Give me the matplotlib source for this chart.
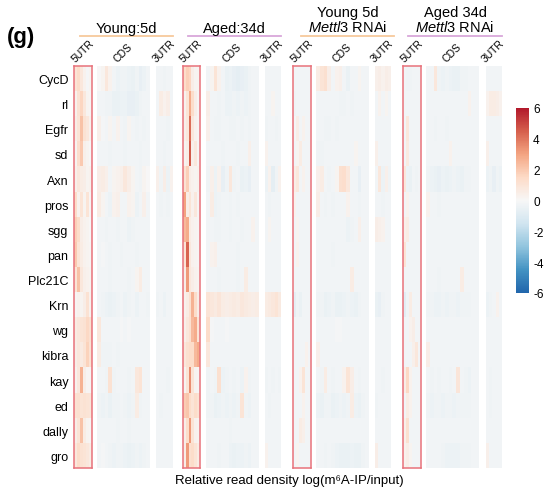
import numpy as np
import matplotlib
matplotlib.use('Agg')
import matplotlib.pyplot as plt
from matplotlib.colors import LinearSegmentedColormap

plt.rcParams['font.family'] = ['Liberation Sans', 'DejaVu Sans']
plt.rcParams['mathtext.fontset'] = 'custom'
plt.rcParams['mathtext.it'] = 'Liberation Sans:italic'
plt.rcParams['mathtext.rm'] = 'Liberation Sans'

genes = ['CycD', 'rl', 'Egfr', 'sd', 'Axn', 'pros', 'sgg', 'pan', 'Plc21C',
         'Krn', 'wg', 'kibra', 'kay', 'ed', 'dally', 'gro']
regions = ['5UTR', 'CDS', '3UTR']

# ---- Young:5d --------------------------------------------------------------
young_5utr = [
    [1.0, 1.4, 0.8, 0.3, -0.1, 0.2],
    [0.3, 1.1, 1.6, 0.8, 0.2, 0.1],
    [0.5, 1.0, 2.2, 1.1, 0.8, 0.3],
    [0.2, 1.3, 2.0, 0.4, 0.2, 0.0],
    [0.4, 0.8, 0.6, 0.5, 0.2, 0.3],
    [1.4, 0.3, 1.0, 0.2, 1.0, 0.1],
    [1.8, 1.4, 0.5, 0.3, 0.2, 0.0],
    [2.0, 1.0, 0.6, 0.3, 0.2, 0.1],
    [1.0, 2.2, 0.8, 0.4, 0.3, 0.2],
    [0.1, 0.3, 0.2, 0.5, 1.1, 0.3],
    [0.6, 0.8, 1.0, 1.1, 1.5, 1.2],
    [0.5, 0.8, 0.7, 1.0, 1.7, 1.1],
    [0.3, 0.8, 2.6, 0.5, 0.1, 0.1],
    [1.1, 1.2, 1.0, 1.1, 1.0, 0.9],
    [0.5, 1.0, 2.2, 0.6, 0.2, 0.1],
    [0.8, 1.4, 1.1, 1.0, 0.8, 0.6],
]
young_cds = [
    [0.0, 0.2, 0.8, 0.3, -0.2, -0.4, -0.3, -0.3, -0.4, -0.5, -0.3, -0.6, -0.4, -0.2],
    [-0.2, -0.2, -0.3, -0.3, -0.5, -0.5, -0.4, -0.4, -0.6, -0.6, -0.5, -0.3, -0.2, -0.2],
    [0.4, -0.1, -0.2, 0.2, -0.2, 0.3, -0.2, -0.3, 0.2, -0.2, -0.3, -0.2, -0.3, -0.2],
    [-0.2, -0.2, -0.2, -0.3, -0.2, -0.2, -0.2, -0.3, -0.2, -0.2, -0.2, -0.3, -0.2, -0.2],
    [0.5, 0.6, 0.4, -0.2, 0.2, 0.3, 0.4, 0.8, 0.5, 0.2, -0.2, -0.3, 0.2, 0.0],
    [0.6, 0.2, -0.2, -0.4, 0.3, 0.4, -0.2, -0.2, 0.3, 0.2, -0.4, -0.2, 0.4, -0.2],
    [-0.2, -0.2, -0.3, -0.2, -0.2, -0.3, -0.2, -0.2, -0.4, -0.3, -0.2, -0.2, -0.2, -0.2],
    [-0.2, -0.1, -0.2, -0.3, -0.2, -0.2, -0.3, -0.2, -0.2, -0.2, -0.3, -0.2, -0.2, -0.2],
    [-0.2, -0.2, -0.2, -0.3, -0.2, -0.2, -0.2, -0.2, -0.3, -0.2, 0.2, 0.6, -0.2, -0.2],
    [-0.2, -0.3, -0.4, -0.5, -0.4, -0.3, -0.2, -0.4, -0.3, -0.2, -0.4, -0.2, -0.2, -0.3],
    [0.8, -0.2, -0.2, -0.2, -0.2, -0.2, -0.1, -0.2, -0.1, -0.2, -0.2, -0.2, -0.2, -0.2],
    [0.6, -0.3, -0.3, -0.3, -0.2, -0.3, -0.2, -0.2, -0.2, -0.2, -0.2, -0.2, -0.2, -0.2],
    [-0.2, -0.2, -0.3, 1.1, -0.3, -0.2, -0.2, -0.2, -0.3, -0.2, 0.8, 1.0, -0.2, -0.2],
    [-0.3, -0.4, -0.3, -0.5, -0.3, -0.3, -0.2, -0.3, -0.4, -0.3, 0.6, -0.3, -0.2, -0.2],
    [-0.2, -0.2, -0.2, -0.2, -0.2, -0.3, -0.2, -0.2, -0.3, -0.2, -0.2, -0.2, -0.2, -0.2],
    [-0.2, -0.1, -0.2, -0.3, -0.4, -0.3, -0.3, -0.4, -0.5, -0.4, -0.3, -0.4, -0.3, -0.2],
]
young_3utr = [
    [-0.2, -0.2, -0.3, -0.2, -0.2],
    [-0.2, 0.6, 0.3, 0.5, -0.2],
    [-0.2, -0.2, -0.2, -0.3, -0.2],
    [-0.2, -0.2, -0.3, -0.2, -0.2],
    [0.4, -0.3, 0.5, -0.4, 0.3],
    [-0.2, -0.3, -0.2, -0.3, -0.2],
    [-0.2, -0.2, -0.2, -0.2, -0.2],
    [-0.2, -0.2, -0.2, -0.2, -0.2],
    [-0.2, -0.2, -0.2, -0.2, -0.2],
    [-0.3, -0.2, -0.4, -0.2, -0.2],
    [-0.2, -0.2, -0.2, -0.2, -0.2],
    [-0.2, -0.2, -0.2, -0.2, -0.2],
    [-0.2, -0.2, -0.2, -0.3, -0.2],
    [-0.2, -0.3, -0.2, -0.2, -0.2],
    [-0.2, -0.2, -0.2, -0.2, -0.2],
    [-0.2, -0.2, -0.2, -0.2, -0.2],
]

# ---- Aged:34d --------------------------------------------------------------
aged_5utr = [
    [1.4, 1.8, 1.6, 0.5, 0.2, 0.2],
    [0.3, 1.0, 2.8, 1.4, 0.5, 0.1],
    [0.4, 0.8, 4.2, 0.8, 0.3, 0.1],
    [0.2, 0.5, 4.6, 0.4, 0.8, 0.1],
    [1.1, 1.8, 0.5, 0.3, 0.2, 0.3],
    [3.0, 0.5, 1.0, 0.3, 0.8, 0.1],
    [2.4, 2.8, 0.6, 0.3, 0.2, 0.1],
    [1.0, 4.4, 0.8, 0.3, 0.2, 0.1],
    [0.5, 3.2, 0.8, 0.5, 0.3, 0.2],
    [0.3, 0.6, 1.2, 2.6, 1.4, 0.5],
    [0.4, 0.8, 1.2, 2.4, 2.8, 1.0],
    [0.8, 1.2, 1.4, 1.4, 2.4, 2.8],
    [0.2, 1.0, 3.5, 1.0, 0.2, 0.1],
    [1.9, 2.1, 1.4, 1.0, 1.4, 1.1],
    [0.5, 1.4, 3.2, 1.0, 0.3, 0.2],
    [0.5, 3.2, 1.2, 1.4, 1.0, 0.6],
]
aged_cds = [
    [-0.2, 0.2, 1.0, 0.3, -0.2, -0.5, -0.4, -0.6, -0.7, -0.6, -0.5, -0.3, -0.2, -0.2],
    [0.5, -0.2, -0.2, -0.3, -0.2, -0.4, -0.4, -0.3, -0.4, -0.3, -0.4, -0.3, -0.2, -0.2],
    [0.4, -0.2, -0.3, -0.3, -0.2, -0.2, -0.3, -0.3, -0.2, -0.3, -0.2, -0.3, -0.2, -0.2],
    [-0.2, -0.2, -0.2, -0.2, -0.3, -0.2, -0.2, -0.2, -0.3, -0.2, -0.2, 0.4, -0.2, -0.2],
    [-0.3, 0.4, -0.4, 0.3, -0.6, -0.3, 0.8, -0.3, -0.2, -0.5, -0.4, -0.6, -0.2, -0.2],
    [-0.2, 0.6, -0.4, -0.3, -0.2, -0.2, -0.3, -0.2, -0.3, -0.2, -0.2, -0.2, -0.2, -0.2],
    [-0.2, -0.2, -0.3, -0.3, -0.2, -0.2, -0.3, -0.2, -0.2, -0.3, -0.2, -0.2, 0.3, -0.2],
    [-0.2, 0.3, 0.4, -0.2, -0.2, -0.2, -0.2, -0.2, -0.3, -0.2, -0.2, -0.2, -0.2, -0.2],
    [-0.2, -0.2, -0.2, -0.3, -0.2, -0.2, -0.2, -0.2, -0.3, -0.2, 0.6, -0.2, -0.2, -0.2],
    [1.0, 0.8, 0.7, 0.9, 0.6, 0.5, 0.6, 0.7, 0.6, 0.8, 0.7, 0.6, 0.5, 0.6],
    [1.4, -0.1, -0.2, -0.2, -0.2, -0.1, -0.2, -0.2, -0.2, -0.2, -0.2, -0.2, -0.2, -0.2],
    [0.8, -0.2, -0.2, -0.2, -0.2, -0.2, -0.2, -0.2, -0.2, -0.2, -0.2, -0.2, -0.2, -0.2],
    [-0.3, -0.2, -0.3, 1.2, -0.4, -0.3, -0.2, -0.3, -0.2, -0.4, 0.3, -0.3, -0.2, -0.2],
    [-0.3, -0.3, -0.5, -0.4, -0.3, -0.4, -0.3, -0.4, -0.3, 1.0, -0.3, -0.4, -0.2, -0.2],
    [-0.2, -0.2, -0.2, -0.2, -0.2, -0.2, -0.3, -0.2, -0.2, -0.2, -0.2, -0.2, -0.2, -0.2],
    [-0.2, -0.2, -0.2, -0.3, -0.2, -0.2, -0.4, -0.5, -0.4, -0.4, -0.3, -0.4, -0.2, -0.2],
]
aged_3utr = [
    [-0.2, -0.2, -0.2, -0.2, -0.2],
    [-0.2, -0.2, 0.2, -0.2, -0.2],
    [-0.3, -0.2, -0.2, -0.3, -0.2],
    [0.3, -0.2, -0.2, -0.2, -0.2],
    [-0.4, 0.3, -0.7, -0.3, 0.3],
    [-0.2, -0.3, -0.2, -0.2, -0.2],
    [-0.2, 0.2, -0.2, -0.2, -0.2],
    [-0.2, -0.2, -0.2, -0.2, -0.2],
    [-0.2, -0.2, -0.2, -0.2, -0.2],
    [0.6, 0.7, 0.8, 1.0, 0.7],
    [-0.2, -0.2, -0.2, -0.2, -0.2],
    [-0.2, -0.2, -0.2, -0.2, -0.2],
    [-0.3, -0.2, -0.3, -0.2, -0.3],
    [-0.2, -0.3, -0.2, -0.2, -0.2],
    [-0.2, -0.2, -0.2, -0.2, -0.2],
    [0.3, -0.2, -0.2, -0.2, -0.2],
]

# ---- Young 5d Mettl3 RNAi --------------------------------------------------
yrnai_5utr = [
    [-0.2, -0.2, -0.2, -0.2, -0.2, -0.2],
    [-0.3, -0.2, -0.2, -0.2, -0.2, -0.2],
    [-0.1, 0.5, -0.2, 0.3, -0.2, -0.2],
    [-0.2, 0.2, 0.6, -0.2, -0.2, -0.2],
    [0.5, 0.8, -0.2, 0.3, -0.2, -0.2],
    [0.3, -0.2, -0.2, -0.2, -0.2, -0.2],
    [-0.2, 0.2, -0.2, -0.2, -0.2, -0.2],
    [-0.2, 0.3, -0.2, -0.2, -0.2, -0.2],
    [-0.2, -0.2, -0.2, -0.2, -0.2, -0.2],
    [-0.7, -0.3, -0.5, -0.2, -0.2, -0.2],
    [-0.2, -0.2, -0.2, -0.2, -0.2, -0.2],
    [-0.2, -0.2, -0.2, -0.2, 0.3, -0.2],
    [-0.2, -0.2, 0.3, 1.0, -0.2, -0.2],
    [-0.2, -0.2, -0.2, 0.3, -0.2, -0.2],
    [-0.2, -0.2, 0.6, 0.4, -0.2, -0.2],
    [-0.2, 0.2, -0.2, -0.2, -0.2, -0.2],
]
yrnai_cds = [
    [0.6, 1.0, 1.2, 0.5, -0.2, 0.3, 0.4, -0.2, -0.5, -0.2, -0.2, 0.2, -0.2, -0.2],
    [-0.2, -0.2, -0.2, -0.2, -0.2, -0.2, -0.3, -0.3, -0.2, -0.3, -0.2, -0.2, -0.2, -0.2],
    [-0.2, -0.2, -0.3, -0.3, -0.2, -0.3, -0.2, -0.2, -0.2, -0.2, -0.2, -0.2, -0.2, -0.2],
    [-0.3, -0.3, -0.2, -0.2, -0.2, -0.2, -0.2, -0.2, -0.2, -0.2, 0.2, -0.2, -0.2, -0.2],
    [0.4, 0.6, -0.2, -0.3, -0.2, 0.2, 1.2, 1.3, 0.8, -0.2, -0.2, -0.6, -0.2, -0.2],
    [0.5, -0.2, -0.3, -0.2, -0.3, -0.2, -0.2, -0.2, 0.3, -0.2, -0.2, -0.3, -0.2, -0.2],
    [-0.2, -0.2, -0.2, -0.2, -0.2, -0.2, -0.2, -0.2, -0.4, -0.3, -0.2, 0.4, -0.2, -0.2],
    [-0.2, -0.2, -0.2, -0.2, -0.3, -0.2, -0.2, -0.2, -0.2, -0.2, -0.2, -0.2, -0.2, -0.2],
    [-0.2, -0.2, -0.2, -0.2, -0.2, -0.2, -0.2, -0.2, -0.2, 0.6, -0.2, -0.2, -0.2, -0.2],
    [-0.3, -0.3, -0.5, -0.4, -0.3, -0.5, -0.5, -0.4, -0.3, -0.4, -0.5, -0.3, -0.2, -0.2],
    [-0.2, -0.2, -0.2, -0.2, -0.2, -0.1, -0.1, -0.2, -0.2, -0.2, -0.2, -0.2, -0.2, -0.2],
    [0.4, -0.2, -0.2, -0.2, -0.2, -0.2, -0.2, -0.2, -0.2, -0.2, -0.2, -0.2, -0.2, -0.2],
    [-0.2, -0.3, 0.6, -0.2, -0.3, -0.2, -0.2, 0.3, 1.0, 0.5, -0.2, -0.3, -0.2, -0.2],
    [-0.4, -0.5, -0.3, -0.3, -0.5, -0.4, -0.3, -0.4, -0.3, 0.6, -0.4, -0.5, -0.3, -0.2],
    [-0.2, -0.2, -0.2, -0.2, -0.2, -0.2, -0.2, -0.2, -0.2, -0.2, -0.2, -0.2, -0.2, -0.2],
    [-0.2, -0.2, -0.3, -0.2, -0.3, -0.4, -0.5, -0.5, -0.5, -0.4, -0.5, -0.5, -0.3, -0.2],
]
yrnai_3utr = [
    [0.4, 0.5, 0.3, 0.5, 0.4],
    [-0.2, 0.3, -0.2, 0.2, -0.2],
    [-0.2, -0.2, -0.2, -0.2, -0.2],
    [0.4, -0.2, -0.2, -0.2, -0.2],
    [-0.2, 0.8, -0.4, 0.4, -0.3],
    [-0.2, -0.2, -0.3, -0.2, -0.2],
    [0.5, 0.4, 0.3, -0.2, -0.2],
    [-0.2, -0.2, -0.2, -0.2, -0.2],
    [-0.2, -0.2, -0.2, -0.2, -0.2],
    [-0.5, -0.6, -0.3, -0.2, -0.2],
    [-0.2, -0.2, -0.2, -0.2, -0.2],
    [-0.2, -0.2, -0.2, -0.2, -0.2],
    [-0.2, -0.2, -0.3, -0.2, -0.2],
    [-0.3, -0.2, -0.2, -0.2, -0.2],
    [-0.2, -0.2, -0.2, -0.2, -0.2],
    [0.5, -0.2, -0.2, -0.2, -0.2],
]

# ---- Aged 34d Mettl3 RNAi --------------------------------------------------
arnai_5utr = [
    [-0.2, -0.3, -0.3, -0.2, -0.2, -0.2],
    [-0.2, -0.2, -0.2, -0.2, -0.2, -0.2],
    [-0.2, 0.8, -0.2, -0.2, -0.2, -0.2],
    [-0.2, 0.7, -0.2, -0.2, -0.2, -0.2],
    [0.8, -0.4, -0.5, -0.2, -0.3, -0.2],
    [-0.2, 0.3, -0.2, -0.2, -0.2, -0.2],
    [0.4, 0.6, -0.2, -0.2, -0.2, -0.2],
    [1.0, -0.2, -0.2, -0.2, -0.2, -0.2],
    [-0.2, -0.2, -0.2, -0.2, -0.2, -0.2],
    [-0.8, -0.3, 0.6, -0.2, -0.2, -0.2],
    [-0.2, -0.2, 0.3, 0.5, -0.2, -0.2],
    [-0.2, -0.2, -0.2, 0.4, 0.8, -0.2],
    [0.5, 1.5, 0.3, -0.2, -0.2, -0.2],
    [-0.2, 0.6, 0.3, -0.2, -0.2, -0.2],
    [0.4, 1.2, -0.2, -0.2, -0.2, -0.2],
    [0.3, 0.5, 0.2, -0.2, -0.2, -0.2],
]
arnai_cds = [
    [-0.2, -0.2, 0.8, -0.3, -0.4, -0.3, -0.4, -0.5, -0.5, -0.3, -0.3, -0.2, -0.2, -0.2],
    [-0.2, -0.2, -0.2, -0.2, -0.2, -0.2, -0.2, -0.2, -0.2, -0.2, -0.2, 0.3, -0.2, -0.2],
    [-0.2, -0.2, -0.3, -0.2, -0.2, -0.3, -0.2, -0.2, -0.2, -0.2, -0.2, -0.2, -0.2, -0.2],
    [-0.2, -0.2, -0.2, -0.2, -0.2, -0.2, 0.3, -0.2, -0.2, -0.2, -0.2, -0.2, -0.2, -0.2],
    [-0.3, -0.4, -0.5, -0.6, -0.4, -0.5, -0.4, -0.3, -0.4, -0.5, -0.3, -0.3, -0.2, -0.2],
    [0.3, -0.2, -0.2, -0.3, -0.2, -0.2, -0.2, -0.2, -0.2, -0.2, -0.2, -0.2, -0.2, -0.2],
    [-0.2, -0.2, -0.2, -0.2, -0.2, -0.2, -0.2, -0.2, -0.2, -0.2, -0.2, -0.2, -0.2, -0.2],
    [-0.2, -0.2, -0.2, -0.2, -0.2, -0.2, -0.2, -0.2, -0.2, -0.2, -0.2, -0.2, -0.2, -0.2],
    [-0.2, -0.2, -0.2, -0.3, -0.2, -0.2, -0.2, -0.2, -0.2, 0.6, -0.2, -0.2, -0.2, -0.2],
    [-0.3, -0.3, -0.4, -0.4, -0.3, -0.4, -0.3, -0.3, -0.4, -0.3, -0.3, -0.3, -0.2, -0.2],
    [-0.2, -0.2, -0.2, -0.2, -0.2, -0.2, -0.2, -0.2, -0.2, -0.2, -0.2, -0.2, -0.2, -0.2],
    [0.5, -0.2, -0.2, -0.2, -0.2, -0.2, -0.2, -0.2, -0.2, -0.2, -0.2, -0.2, -0.2, -0.2],
    [-0.2, -0.3, -0.2, -0.3, -0.2, -0.2, -0.3, -0.2, 0.9, -0.2, -0.3, -0.4, -0.2, -0.2],
    [-0.3, -0.4, -0.3, -0.3, -0.4, -0.3, -0.3, -0.4, -0.3, -0.3, -0.3, -0.3, -0.2, -0.2],
    [-0.2, -0.2, -0.2, -0.2, -0.2, -0.2, -0.2, -0.2, -0.2, -0.2, -0.2, -0.2, -0.2, -0.2],
    [-0.2, -0.2, -0.2, -0.2, -0.3, -0.4, -0.4, -0.4, -0.4, -0.3, -0.3, -0.3, -0.2, -0.2],
]
arnai_3utr = [
    [-0.2, -0.2, -0.2, -0.2, -0.2],
    [0.3, 0.6, 0.6, 0.5, 0.3],
    [-0.2, -0.2, -0.2, -0.2, -0.2],
    [0.4, -0.2, -0.2, -0.2, -0.2],
    [-0.4, -0.3, -0.6, -0.3, -0.4],
    [-0.2, -0.2, -0.2, -0.2, -0.2],
    [-0.2, -0.2, -0.2, -0.2, -0.2],
    [-0.2, -0.2, -0.2, -0.2, -0.2],
    [-0.2, -0.2, -0.2, -0.2, -0.2],
    [-0.4, -0.3, -0.2, 0.3, -0.2],
    [-0.2, -0.2, -0.2, -0.2, -0.2],
    [-0.2, -0.2, -0.2, -0.2, -0.2],
    [-0.2, -0.3, -0.2, -0.2, -0.2],
    [-0.2, -0.3, -0.2, -0.2, -0.2],
    [-0.2, -0.2, -0.2, -0.2, -0.2],
    [0.4, -0.2, -0.2, -0.2, -0.2],
]

panels = [
    ('Young:5d', None, '#f7c99c', [young_5utr, young_cds, young_3utr]),
    ('Aged:34d', None, '#d9a7da', [aged_5utr, aged_cds, aged_3utr]),
    ('Young 5d', 'Mettl3', '#f7c99c', [yrnai_5utr, yrnai_cds, yrnai_3utr]),
    ('Aged 34d', 'Mettl3', '#d9a7da', [arnai_5utr, arnai_cds, arnai_3utr]),
]

# 9-class RdBu, blue to red
cmap = LinearSegmentedColormap.from_list('rdbu9', [
    '#2166ac', '#4393c3', '#92c5de', '#d1e5f0', '#f7f7f7',
    '#fddbc7', '#f4a582', '#d6604d', '#b2182b'])

# layout in pixels (figure is 544 x 489)
W, H = 544, 489
col_x = [  # (left, right) of 5UTR, CDS, 3UTR for every panel
    [(74, 92), (97, 150), (156, 173)],
    [(183, 200), (206, 259), (265, 281)],
    [(293, 311), (316, 369), (375, 391)],
    [(403, 421), (426, 479), (486, 502)],
]
line_x = [(80, 173), (188, 281), (301, 394), (408, 502)]
y_top, y_bot = 67, 469
box_red = '#e8727b'

fig = plt.figure(figsize=(W / 100, H / 100), dpi=100)


def px_axes(x0, x1, y0, y1):
    return fig.add_axes([x0 / W, 1 - y1 / H, (x1 - x0) / W, (y1 - y0) / H])


im = None
for p, (title, italic, lcol, mats) in enumerate(panels):
    for r, mat in enumerate(mats):
        x0, x1 = col_x[p][r]
        ax = px_axes(x0, x1, y_top, y_bot)
        im = ax.imshow(np.array(mat), cmap=cmap, vmin=-6, vmax=6,
                       aspect='auto', interpolation='nearest')
        ax.set_xticks([])
        ax.set_yticks([])
        for s in ax.spines.values():
            if r == 0:
                s.set_color(box_red)
                s.set_linewidth(1.1)
            else:
                s.set_visible(False)
        if p == 0 and r == 0:
            ax.set_yticks(range(len(genes)))
            ax.set_yticklabels(genes, fontsize=9)
            ax.tick_params(axis='y', length=0, pad=4)
        # rotated region label
        fig.text(((x0 + x1) / 2 - 0.5) / W, 1 - 64 / H, regions[r], rotation=45,
                 ha='center', va='bottom', fontsize=7.5)

    # header line and title
    lx0, lx1 = line_x[p]
    fig.add_artist(plt.Line2D([lx0 / W, lx1 / W], [1 - 36.5 / H] * 2,
                              color=lcol, lw=1.3))
    cx = (lx0 + lx1) / 2 / W
    if italic is None:
        fig.text(cx, 1 - 33 / H, title, ha='center', va='baseline', fontsize=10.5)
    else:
        fig.text(cx, 1 - 16.5 / H, title, ha='center', va='baseline', fontsize=10.5)
        fig.text(cx, 1 - 32.5 / H, r'$\it{' + italic + r'}$ RNAi', ha='center',
                 va='baseline', fontsize=10.5)

# colour bar
cax = px_axes(516, 529, 109, 294)
cb = fig.colorbar(im, cax=cax, ticks=[-6, -4, -2, 0, 2, 4, 6])
cb.outline.set_visible(False)
cb.ax.set_yticklabels(['-6', '-4', '-2', '0', '2', '4', '6'])
cb.ax.tick_params(length=0, pad=3, labelsize=8.5)

fig.text(21 / W, 1 - 38 / H, '(g)', ha='center', va='center', fontsize=16,
         fontweight='bold')
fig.text(289 / W, 1 - 481 / H, 'Relative read density log(m\u2076A-IP/input)',
         ha='center', va='center', fontsize=9.5)

fig.savefig('out.png', dpi=100)
